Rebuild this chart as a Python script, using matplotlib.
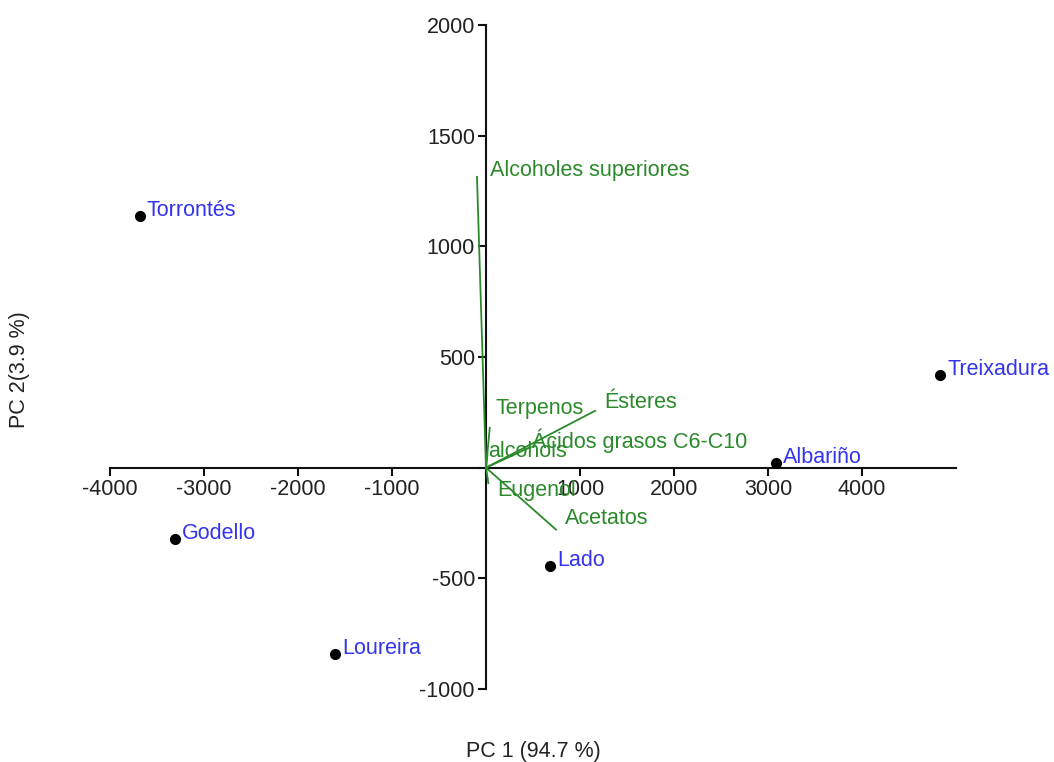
import numpy as np
import matplotlib
matplotlib.use("Agg")
import matplotlib.pyplot as plt

plt.rcParams['font.family'] = ['Liberation Sans', 'DejaVu Sans']
plt.rcParams['axes.unicode_minus'] = False

# Scores (wine varieties)
varieties = ['Torrontés', 'Godello', 'Loureira', 'Lado', 'Albariño', 'Treixadura']
pc1 = [-3685, -3312, -1608, 682, 3088, 4835]
pc2 = [1138, -321, -840, -443, 23, 420]

# Loadings (compound families) - line end points
compounds = ['Alcoholes superiores', 'Terpenos', 'Ésteres', 'Ácidos grasos C6-C10',
             'alcohols', 'Eugenol', 'Acetatos']
load_x = [-96, 40, 1161, 458, 15, 25, 745]
load_y = [1314, 180, 257, 90, 60, -70, -280]
# label anchor positions (left edge, vertical centre)
lab_x = [43, 96, 1257, 490, 21, 117, 841]
lab_y = [1341, 266, 294, 122, 72, -104, -230]

BLUE = '#3333ee'
GREEN = '#2a8a2a'
FS = 15.5

fig = plt.figure(figsize=(10.54, 7.62), dpi=100)
ax = fig.add_axes([110 / 1054, 73 / 762, 846 / 1054, 664 / 762])
ax.set_xlim(-4000, 5000)
ax.set_ylim(-1000, 2000)

for s in ['top', 'right']:
    ax.spines[s].set_visible(False)
ax.spines['left'].set_position(('data', 0))
ax.spines['bottom'].set_position(('data', 0))
for s in ['left', 'bottom']:
    ax.spines[s].set_linewidth(1.5)
    ax.spines[s].set_color('#111111')

xt = [-4000, -3000, -2000, -1000, 0, 1000, 2000, 3000, 4000]
yt = [-1000, -500, 0, 500, 1000, 1500, 2000]
ax.set_xticks(xt)
ax.set_xticklabels(['' if v == 0 else str(v) for v in xt])
ax.set_yticks(yt)
ax.set_yticklabels(['' if v == 0 else str(v) for v in yt])
ax.tick_params(axis='both', length=6, width=1.5, color='#111111',
               labelsize=FS, labelcolor='#222222', pad=2)

# loadings
for lx, ly, tx, ty, name in zip(load_x, load_y, lab_x, lab_y, compounds):
    ax.plot([0, lx], [0, ly], color=GREEN, linewidth=1.3, zorder=3)
    ax.text(tx, ty, name, color=GREEN, fontsize=FS, ha='left', va='center', zorder=4)

# scores
ax.plot(pc1, pc2, 'o', color='black', markersize=7, zorder=5, clip_on=False)
for x, y, name in zip(pc1, pc2, varieties):
    ax.annotate(name, (x, y), xytext=(5, 4), textcoords='offset points',
                color=BLUE, fontsize=FS, ha='left', va='center',
                annotation_clip=False)

fig.text(533 / 1054, 1 - 752 / 762, 'PC 1 (94.7 %)', fontsize=FS,
         ha='center', va='center', color='#222222')
fig.text(20 / 1054, 1 - 370 / 762, 'PC 2(3.9 %)', fontsize=FS, rotation=90,
         ha='center', va='center', color='#222222')

fig.savefig('out.png', dpi=100)
